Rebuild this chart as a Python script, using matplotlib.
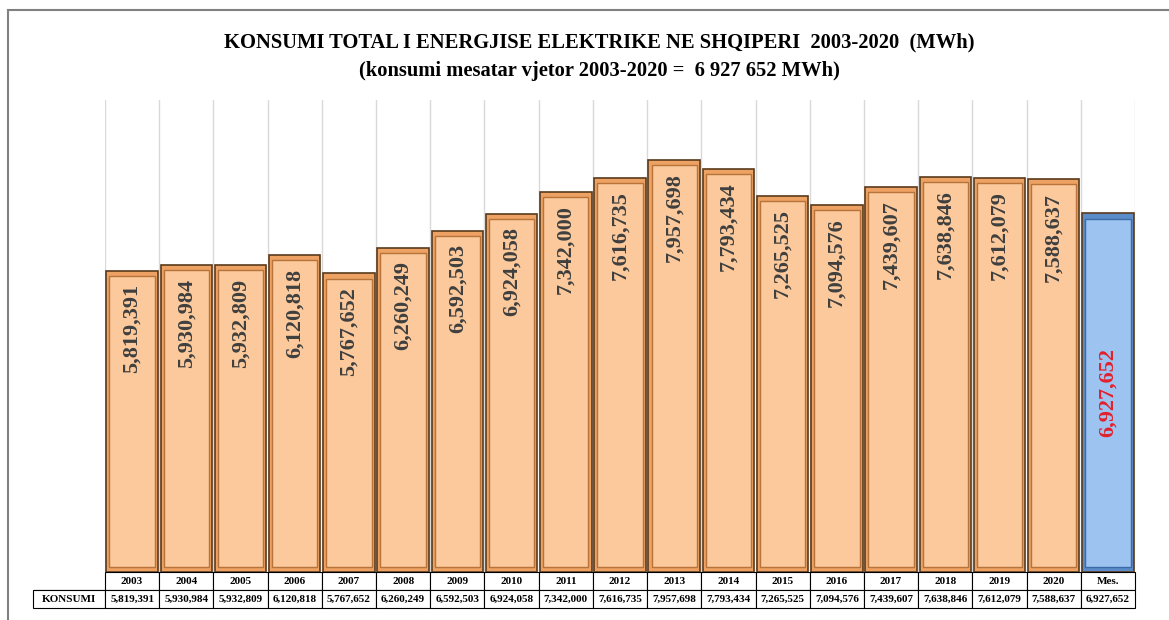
import matplotlib.pyplot as plt
from matplotlib.patches import Rectangle

# data
years = ['2003', '2004', '2005', '2006', '2007', '2008', '2009', '2010', '2011',
         '2012', '2013', '2014', '2015', '2016', '2017', '2018', '2019', '2020']
konsumi = [5819391, 5930984, 5932809, 6120818, 5767652, 6260249, 6592503, 6924058,
           7342000, 7616735, 7957698, 7793434, 7265525, 7094576, 7439607, 7638846,
           7612079, 7588637]
mesatar = 6927652
mes_label = 'Mes.'

labels = years + [mes_label]
values = konsumi + [mesatar]

plt.rcParams['font.family'] = ['Liberation Serif', 'DejaVu Serif']

W, H = 1169, 620
fig = plt.figure(figsize=(W / 100, H / 100), dpi=100)

# axes area in pixels
x0, x1, ytop, ybot = 105, 1135, 100, 572
ax = fig.add_axes([x0 / W, 1 - ybot / H, (x1 - x0) / W, (ybot - ytop) / H])

n = len(values)
xs = list(range(n))
ymax = 9.12e6
ax.set_xlim(-0.5, n - 0.5)
ax.set_ylim(0, ymax)

# vertical grid between categories
for b in range(n + 1):
    ax.axvline(b - 0.5, color='#d9d9d9', lw=1, zorder=0)

outer_col = ['#EDA263'] * len(konsumi) + ['#5B8CC8']
face_col = ['#FBC99B'] * len(konsumi) + ['#9DC3F0']
inner_edge = ['#B8733A'] * len(konsumi) + ['#3C6CA8']

bw = 0.95
ax.bar(xs, values, width=bw, color=outer_col, edgecolor='#5a3a1c', lw=1.2, zorder=2)
# bevel: inner lighter panel
inset_y = 0.011 * ymax
ax.bar(xs, [v - 2 * inset_y for v in values], bottom=inset_y, width=bw * 0.88,
       color=face_col, edgecolor=inner_edge, lw=1.0, zorder=3)

for i, v in enumerate(konsumi):
    ax.text(i, v - 0.26e6, f'{v:,}', rotation=90, ha='center', va='top',
            fontsize=16, fontweight='bold', color='#3f3f3f', zorder=4)
ax.text(n - 1, mesatar / 2, f'{mesatar:,}', rotation=90, ha='center', va='center',
        fontsize=16, fontweight='bold', color='#E3202B', zorder=4)

ax.set_xticks([])
ax.set_yticks([])
for s in ax.spines.values():
    s.set_visible(False)

# data table under the bars
lab_w = (x0 - 33) / (x1 - x0)
cell_text = [[''] + labels, ['KONSUMI'] + [f'{v:,}' for v in values]]
tab_h = 36 / (ybot - ytop)
tbl = ax.table(cellText=cell_text, colWidths=[lab_w] + [1 / n] * n,
               cellLoc='center', bbox=[-lab_w, -tab_h, 1 + lab_w, tab_h])
tbl.auto_set_font_size(False)
for (r, c), cell in tbl.get_celld().items():
    cell.set_fontsize(8)
    cell.get_text().set_fontweight('bold')
    cell.set_linewidth(0.8)
    if r == 0 and c == 0:
        cell.visible_edges = 'B'

fig.text(0.513, 1 - 42 / H, 'KONSUMI TOTAL I ENERGJISE ELEKTRIKE NE SHQIPERI  2003-2020  (MWh)',
         ha='center', va='center', fontsize=14.8, fontweight='bold')
fig.text(0.513, 1 - 71 / H, '(konsumi mesatar vjetor 2003-2020 =  6 927 652 MWh)',
         ha='center', va='center', fontsize=14.8, fontweight='bold')

# outer chart frame
fig.patches.append(Rectangle((8 / W, -0.1), 1.2, 1 - 10 / H + 0.1, transform=fig.transFigure,
                             fill=False, edgecolor='#808080', lw=1.5))

fig.savefig('out.png', dpi=100)
